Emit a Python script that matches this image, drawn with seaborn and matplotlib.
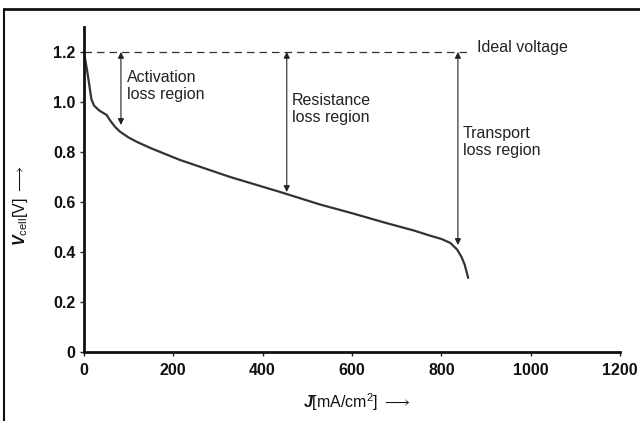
import matplotlib
matplotlib.use("Agg")
import matplotlib.pyplot as plt
import matplotlib.lines as mlines
import seaborn as sns
import pandas as pd

# Polarization curve data
current_density = [0, 3, 7, 12, 17, 23, 35, 51, 58, 70, 81, 100, 119, 150, 215, 327,
                   439, 528, 600, 678, 740, 775, 800, 820, 835, 845, 852, 860]
cell_voltage = [1.20, 1.17, 1.13, 1.07, 1.01, 0.985, 0.965, 0.948, 0.928, 0.90, 0.881,
                0.858, 0.84, 0.815, 0.768, 0.70, 0.64, 0.59, 0.555, 0.515, 0.485, 0.465,
                0.452, 0.436, 0.41, 0.38, 0.35, 0.296]
ideal_voltage = 1.2
ideal_end = 860
x_ticks = [0, 200, 400, 600, 800, 1000, 1200]
y_ticks = [0, 0.2, 0.4, 0.6, 0.8, 1.0, 1.2]
y_tick_labels = ["0", "0.2", "0.4", "0.6", "0.8", "1.0", "1.2"]
region_labels = ["Activation\nloss region", "Resistance\nloss region", "Transport\nloss region"]
region_x = [83, 454, 837]
region_bottom = [0.908, 0.64, 0.428]
label_pos = [(96, 1.064), (466, 0.972), (848, 0.84)]

sns.set_style("ticks")
plt.rcParams['font.family'] = ['Liberation Sans', 'DejaVu Sans']
plt.rcParams['mathtext.fontset'] = 'custom'
plt.rcParams['mathtext.rm'] = 'Liberation Sans'
plt.rcParams['mathtext.it'] = 'Liberation Sans:italic'
plt.rcParams['mathtext.bf'] = 'Liberation Sans:bold'
plt.rcParams['mathtext.bfit'] = 'Liberation Sans:bold:italic'
plt.rcParams['mathtext.fallback'] = 'stixsans'

df = pd.DataFrame({"J": current_density, "V": cell_voltage})

fig = plt.figure(figsize=(6.4, 4.21), dpi=100)
ax = fig.add_axes([0.131, 0.164, 0.838, 0.772])

sns.lineplot(data=df, x="J", y="V", ax=ax, color="#333333", lw=1.6, sort=False)

ax.plot([0, ideal_end], [ideal_voltage, ideal_voltage], ls=(0, (6, 4)), color="#333333", lw=0.9)
ax.text(880, 1.216, "Ideal voltage", fontsize=11.5, va="center", ha="left", color="#222222")

for xr, yb in zip(region_x, region_bottom):
    ax.annotate("", xy=(xr, yb), xytext=(xr, ideal_voltage),
                arrowprops=dict(arrowstyle="<|-|>", color="#222222", lw=0.8,
                                mutation_scale=9, shrinkA=0, shrinkB=0))
for lab, (lx, ly) in zip(region_labels, label_pos):
    ax.text(lx, ly, lab, fontsize=11.5, va="center", ha="left", color="#222222", linespacing=1.2)

ax.set_xlim(0, 1200)
ax.set_ylim(0, 1.3)
ax.set_xticks(x_ticks)
ax.set_xticklabels([str(t) for t in x_ticks], fontweight="bold", fontsize=11.5)
ax.set_yticks(y_ticks)
ax.set_yticklabels(y_tick_labels, fontweight="bold", fontsize=11.5)
ax.tick_params(axis="both", length=3, width=1, color="#222222", labelcolor="#111111")
ax.tick_params(axis="x", pad=5)
ax.tick_params(axis="y", pad=3)
sns.despine(ax=ax)
for s in ["left", "bottom"]:
    ax.spines[s].set_linewidth(2)
    ax.spines[s].set_color("#111111")

ax.set_xlabel(r"$\mathbfit{J}$[mA/cm$^2$] $\longrightarrow$", fontsize=11.5, color="#111111")
ax.xaxis.set_label_coords(0.51, -0.12)
ax.set_ylabel(r"$\mathbfit{V}_{\mathrm{cell}}$[V] $\longrightarrow$", fontsize=11.5, color="#111111")
ax.yaxis.set_label_coords(-0.10, 0.45)

# page frame lines
fig.add_artist(mlines.Line2D([0.006, 1.0], [0.979, 0.979], transform=fig.transFigure, color="#111111", lw=2))
fig.add_artist(mlines.Line2D([0.006, 0.006], [0.0, 0.979], transform=fig.transFigure, color="#111111", lw=1.5))

fig.savefig("out.png", dpi=100)
